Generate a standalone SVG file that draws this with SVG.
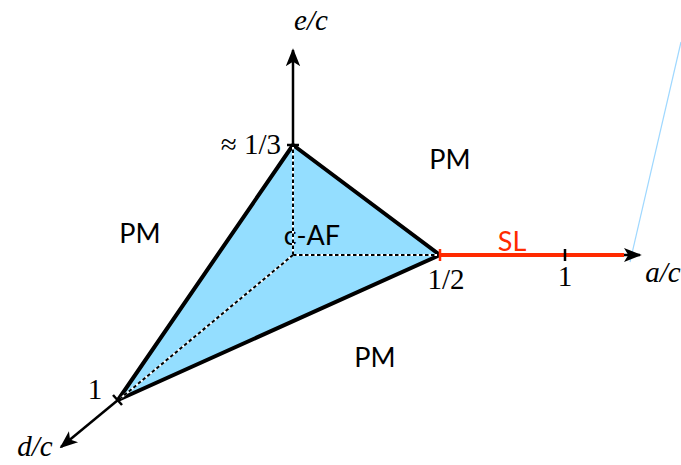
<svg xmlns="http://www.w3.org/2000/svg" width="681" height="465" viewBox="0 0 681 465">
<style>
.lbl{font-family:"Lato","Open Sans",sans-serif;font-size:27px;fill:#000}
.math{font-family:"Liberation Serif","DejaVu Serif",serif;font-size:29px;fill:#000}
.it{font-style:italic}
.ax{stroke:#000;stroke-width:2.5;fill:none}
.dash-w{stroke:#fff;stroke-width:2;fill:none}
.dash-b{stroke:#000;stroke-width:2;stroke-dasharray:3.5 2.5;fill:none}
</style>
<defs>
<marker id="arr2" viewBox="0 0 10 10" refX="9" refY="5" markerWidth="18" markerHeight="18" markerUnits="userSpaceOnUse" orient="auto">
<path d="M0,1 L10,5 L0,9 L2.5,5 z" fill="#000"/>
</marker>
</defs>
<g id="bg-line"><line x1="630" y1="262" x2="681" y2="42" stroke="#9fd8ff" stroke-width="1.2"/></g>
<g id="region-caf">
<polygon points="293,145 440,255 118,400" fill="#94deff" stroke="#000" stroke-width="4" stroke-linejoin="round"/>
<text class="lbl" x="312" y="245" text-anchor="middle">c-AF</text>
</g>
<g id="connectors">
<line class="ax" x1="293" y1="145" x2="293" y2="50" marker-end="url(#arr2)"/>
<line class="ax" x1="118" y1="400" x2="61" y2="447" marker-end="url(#arr2)"/>
<line class="ax" x1="615" y1="255" x2="640" y2="255" marker-end="url(#arr2)"/>
<line x1="440" y1="255" x2="624" y2="255" stroke="#ff2a00" stroke-width="4"/>
<line x1="440" y1="249" x2="440" y2="261" stroke="#ff2a00" stroke-width="2.5"/>
<line x1="565" y1="249" x2="565" y2="261" stroke="#000" stroke-width="2.5"/>
<line x1="287" y1="145" x2="299" y2="145" stroke="#000" stroke-width="2.5"/>
<line x1="113" y1="395" x2="122" y2="405" stroke="#000" stroke-width="2.5"/>
<g id="dashes">
<line class="dash-w" x1="293" y1="255" x2="293" y2="147"/>
<line class="dash-b" x1="293" y1="255" x2="293" y2="147"/>
<line class="dash-w" x1="293" y1="255" x2="438" y2="255"/>
<line class="dash-b" x1="293" y1="255" x2="438" y2="255"/>
<line class="dash-w" x1="293" y1="255" x2="121" y2="398"/>
<line class="dash-b" x1="293" y1="255" x2="121" y2="398"/>
</g>
</g>
<g id="labels">
<text class="math it" x="311" y="30" text-anchor="middle">e/c</text>
<text class="math" x="281" y="154" text-anchor="end">≈ 1/3</text>
<text class="math" x="446" y="289" text-anchor="middle">1/2</text>
<text class="math" x="565" y="286" text-anchor="middle">1</text>
<text class="math it" x="663" y="282" text-anchor="middle">a/c</text>
<text class="math it" x="35" y="456" text-anchor="middle">d/c</text>
<text class="math" x="95" y="399" text-anchor="middle">1</text>
</g>
<g id="pm-left"><text class="lbl" x="140" y="243" text-anchor="middle">PM</text></g>
<g id="pm-top"><text class="lbl" x="450" y="169" text-anchor="middle">PM</text></g>
<g id="pm-bottom"><text class="lbl" x="375" y="367" text-anchor="middle">PM</text></g>
<g id="sl"><text class="lbl" x="512" y="251" text-anchor="middle" style="fill:#ff2a00">SL</text></g>
</svg>
